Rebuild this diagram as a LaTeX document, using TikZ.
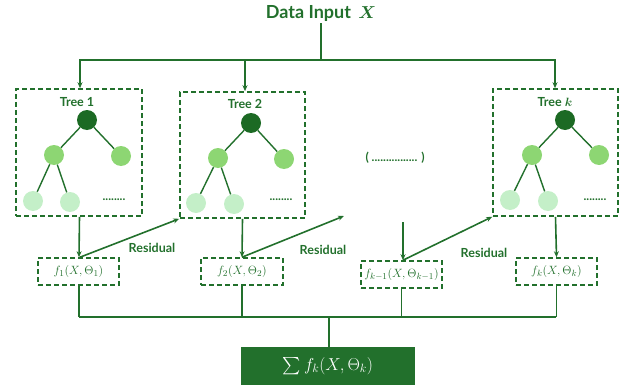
\documentclass[tikz,border=0pt]{standalone}
\usepackage{amsmath}
\usepackage{bm}
\usepackage{fontspec}
\setmainfont{Lato}
\usetikzlibrary{arrows.meta}
\definecolor{dg}{HTML}{22702C}
\definecolor{rootc}{HTML}{1C6A24}
\definecolor{midc}{HTML}{8DD673}
\definecolor{leafc}{HTML}{C4EFC8}
\begin{document}
\begin{tikzpicture}[x=1pt,y=-1pt,
  line/.style={draw=dg,line width=1.6pt},
  arr/.style={line,-{Stealth[length=6pt,width=5pt]}},
  dbox/.style={draw=dg,line width=1.6pt,dash pattern=on 5pt off 3pt,inner sep=0pt},
  rootn/.style={circle,fill=rootc,minimum size=20pt,inner sep=0pt},
  midn/.style={circle,fill=midc,minimum size=20pt,inner sep=0pt},
  leafn/.style={circle,fill=leafc,minimum size=20pt,inner sep=0pt},
  edge/.style={draw=dg,line width=1.4pt},
  lbl/.style={text=dg,font=\fontsize{12.5}{14}\selectfont\bfseries,inner sep=0pt},
  flbl/.style={text=dg,font=\fontsize{13}{15}\selectfont},
  dots/.style={text=dg,font=\fontsize{12}{14}\selectfont\bfseries,inner sep=0pt}
]
\useasboundingbox (0,0) rectangle (636,385);

% title
\node[text=dg,font=\fontsize{18}{21}\selectfont\bfseries,inner sep=1pt] (title) at (321,14) {Data Input \,$\bm{X}$};
\coordinate (j) at (321,60);

% tree boxes
\node[dbox,minimum width=126pt,minimum height=127pt] (t1) at (79,152.5) {};
\node[dbox,minimum width=125pt,minimum height=126pt] (t2) at (242.5,155) {};
\node[dbox,minimum width=125pt,minimum height=127pt] (tk) at (555.5,152.5) {};

\draw[line] (title.south) -- (j);
\draw[line] (80,60) -- (555,60);
\draw[arr] (j) -| ([xshift=1pt]t1.north);
\draw[arr] (j) -| ([xshift=2.5pt]t2.north);
\draw[arr] (j) -| ([xshift=-0.5pt]tk.north);

% tree 1
\node[lbl] (l1) at (77,102) {Tree 1};
\node[rootn] (r1) at (87,120) {};
\node[midn] (m1) at (54,155) {};
\node[midn] (q1) at (121,156) {};
\node[leafn] (a1) at (33,201) {};
\node[leafn] (b1) at (70,202) {};
\node[dots] (d1) at (114,200) {........};
\draw[edge] (r1) -- (m1); \draw[edge] (r1) -- (q1);
\draw[edge] (m1) -- (a1); \draw[edge] (m1) -- (b1);

% tree 2
\node[lbl] (l2) at (245,104) {Tree 2};
\node[rootn] (r2) at (251,123) {};
\node[midn] (m2) at (218,158) {};
\node[midn] (q2) at (284,159) {};
\node[leafn] (a2) at (196,203) {};
\node[leafn] (b2) at (234,204) {};
\node[dots] (d2) at (281,200) {........};
\draw[edge] (r2) -- (m2); \draw[edge] (r2) -- (q2);
\draw[edge] (m2) -- (a2); \draw[edge] (m2) -- (b2);

% tree k
\node[lbl] (lk) at (555,102) {Tree $\bm{k}$};
\node[rootn] (rk) at (565,120) {};
\node[midn] (mk) at (532,155) {};
\node[midn] (qk) at (599,155) {};
\node[leafn] (ak) at (510,200) {};
\node[leafn] (bk) at (548,201) {};
\node[dots] (dk) at (595,200) {........};
\draw[edge] (rk) -- (mk); \draw[edge] (rk) -- (qk);
\draw[edge] (mk) -- (ak); \draw[edge] (mk) -- (bk);

\node[dots] (mid) at (395,158) {( ................ )};

% f boxes
\node[dbox,minimum width=81pt,minimum height=27pt,flbl] (f1) at (78.5,271.5) {$f_1(X,\Theta_1)$};
\node[dbox,minimum width=82pt,minimum height=27pt,flbl] (f2) at (242,271.5) {$f_2(X,\Theta_2)$};
\node[dbox,minimum width=81pt,minimum height=27pt,flbl] (fk1) at (401.5,274.5) {$f_{k-1}(X,\Theta_{k-1})$};
\node[dbox,minimum width=81pt,minimum height=27pt,flbl] (fk) at (556.5,271.5) {$f_k(X,\Theta_k)$};

\draw[arr] ([xshift=0.5pt]t1.south) -- ([xshift=0.5pt]f1.north);
\draw[arr] (t2.south) -- (f2.north);
\draw[arr] (tk.south) -- (fk.north);
\coordinate (loose) at (403,222);
\draw[arr] (loose) -- ([xshift=1.5pt]fk1.north);

% residual arrows
\coordinate (free) at (344,216);
\draw[arr] ([xshift=1.5pt]f1.north) -- (t2.south west);
\draw[arr] (f2.north) -- (free);
\draw[arr] ([xshift=1.5pt]fk1.north) -- (tk.south west);
\node[lbl] (res1) at (152,248) {Residual};
\node[lbl] (res2) at (323,250) {Residual};
\node[lbl] (res3) at (484,253) {Residual};

% bottom
\coordinate (busL) at (79,317);
\coordinate (busR) at (556,317);
\coordinate (busM) at (329,317);
\node[fill=dg,text=white,minimum width=174pt,minimum height=38pt,inner sep=0pt,font=\fontsize{17}{19}\selectfont] (sum) at (328,366) {$\sum f_k(X,\Theta_k)$};
\draw[line] ([xshift=0.5pt]f1.south) -- ([xshift=0.5pt]f1.south |- busL);
\draw[line] (f2.south) -- (f2.south |- busL);
\draw[line] (fk1.south) -- (fk1.south |- busL);
\draw[line] (fk.south) -- (fk.south |- busL);
\draw[line] (busL) -- (busR);
\draw[line] (busM) -- (sum.north -| busM);
\end{tikzpicture}
\end{document}
